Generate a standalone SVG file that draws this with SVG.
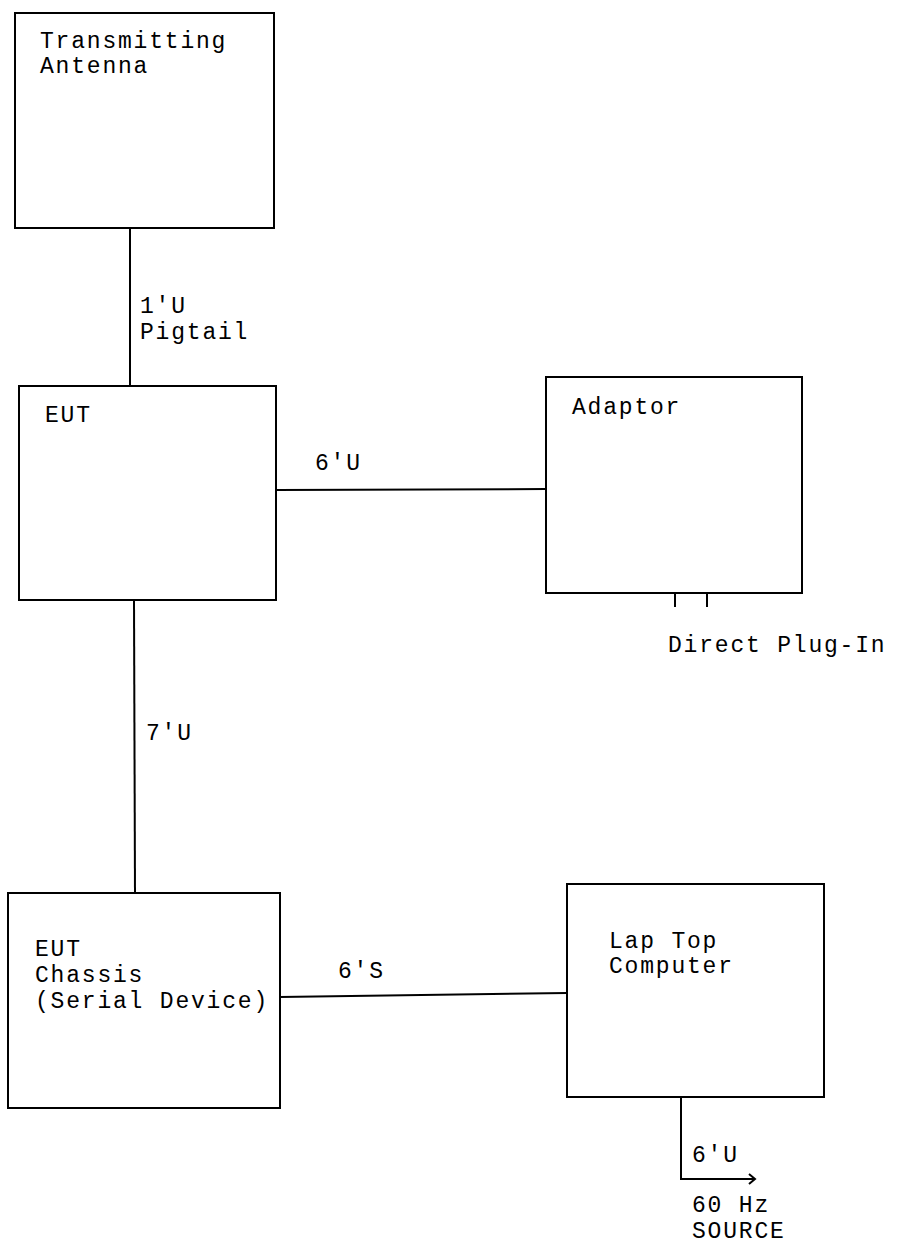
<svg xmlns="http://www.w3.org/2000/svg" width="898" height="1245" viewBox="0 0 898 1245">
<style>
.box{fill:none;stroke:#000;stroke-width:2}
.ln{fill:none;stroke:#000;stroke-width:2}
text{font-family:"Liberation Mono","Courier New",monospace;font-size:23px;letter-spacing:1.8px;fill:#000}
</style>
<rect width="898" height="1245" fill="#fff"/>
<g id="connectors">
<line class="ln" x1="130" y1="228" x2="130" y2="386"/>
<line class="ln" x1="276" y1="490" x2="546" y2="489"/>
<line class="ln" x1="134" y1="600" x2="135" y2="893"/>
<line class="ln" x1="280" y1="997" x2="567" y2="993"/>
<line class="ln" x1="675" y1="593" x2="675" y2="607"/>
<line class="ln" x1="707" y1="593" x2="707" y2="607"/>
<polyline class="ln" points="681,1097 681,1179 755,1179"/>
<polyline class="ln" points="749,1174 755,1179 749,1184" stroke-width="1.5"/>
<text x="140" y="313">1′U</text>
<text x="140" y="339">Pigtail</text>
<text x="315" y="470">6′U</text>
<text x="146" y="740">7′U</text>
<text x="338" y="978">6′S</text>
<text x="668" y="652">Direct Plug-In</text>
<text x="692" y="1162">6′U</text>
<text x="692" y="1212">60 Hz</text>
<text x="692" y="1238">SOURCE</text>
</g>
<g id="antenna">
<rect class="box" x="15" y="13" width="259" height="215"/>
<text x="40" y="48">Transmitting</text>
<text x="40" y="73">Antenna</text>
</g>
<g id="eut">
<rect class="box" x="19" y="386" width="257" height="214"/>
<text x="45" y="422">EUT</text>
</g>
<g id="adaptor">
<rect class="box" x="546" y="377" width="256" height="216"/>
<text x="572" y="414">Adaptor</text>
</g>
<g id="chassis">
<rect class="box" x="8" y="893" width="272" height="215"/>
<text x="35" y="956">EUT</text>
<text x="35" y="982">Chassis</text>
<text x="35" y="1008">(Serial Device)</text>
</g>
<g id="laptop">
<rect class="box" x="567" y="884" width="257" height="213"/>
<text x="609" y="948">Lap Top</text>
<text x="609" y="973">Computer</text>
</g>
</svg>
